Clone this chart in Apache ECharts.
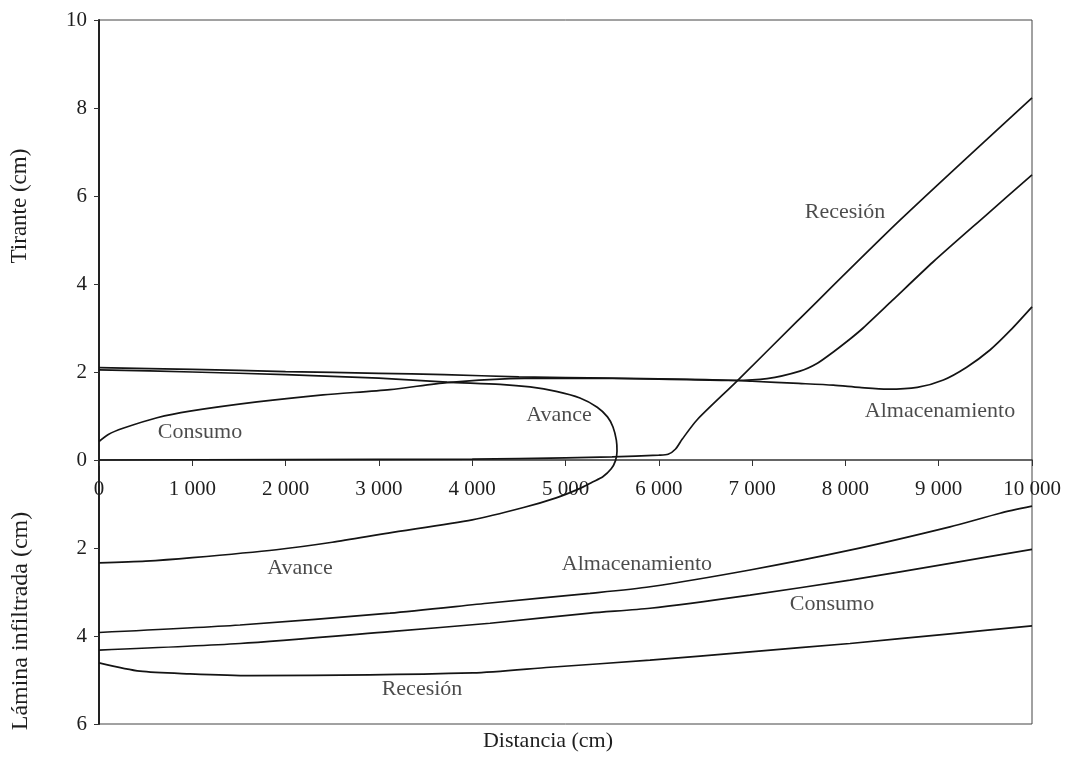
<!DOCTYPE html>
<html>
<head>
<meta charset="utf-8">
<script src="https://cdn.jsdelivr.net/npm/echarts@6/dist/echarts.min.js"></script>
<style>html,body{margin:0;padding:0;background:#fff}#c{width:1065px;height:775px}</style>
</head>
<body>
<div id="c"></div>
<script>
// ---- Data (x: distancia cm, y: tirante cm; negative = lámina infiltrada) ----
const xTicks = [0, 1000, 2000, 3000, 4000, 5000, 6000, 7000, 8000, 9000, 10000];
const yTicks = [-6, -4, -2, 0, 2, 4, 6, 8, 10];

// Upper panel (tirante)
const recesionTirante = [[0,0.0],[2000,0.01],[4000,0.02],[5000,0.05],[5500,0.07],[6000,0.11],[6100,0.13],
  [6180,0.25],[6250,0.47],[6409,0.91],[6827,1.77],[7481,3.15],[8585,5.45],[10000,8.23]];
const consumoTirante = [[0,0.42],[100,0.58],[257,0.72],[622,0.96],[975,1.11],[1693,1.32],[2401,1.48],
  [3119,1.6],[3730,1.76],[4405,1.85],[5000,1.86],[6000,1.84],[6800,1.81],[7160,1.85],[7513,2.02],
  [7700,2.2],[7867,2.45],[8050,2.75],[8190,3.0],[8500,3.62],[8939,4.5],[9500,5.55],[10000,6.48]];
const almacenamientoTirante = [[0,2.1],[1000,2.06],[2000,2.01],[3000,1.97],[3700,1.94],[4500,1.89],
  [5500,1.86],[6500,1.83],[7000,1.79],[7500,1.74],[7870,1.7],[8150,1.65],[8450,1.61],[8770,1.65],
  [9050,1.82],[9300,2.11],[9550,2.5],[9770,2.95],[10000,3.48]];
// Avance: continuous loop from the tirante panel into the lámina panel
const avanceCurve = [[0,2.05],[1000,2.0],[2000,1.94],[3000,1.86],[3730,1.77],[4300,1.72],[4620,1.66],
  [4900,1.56],[5155,1.41],[5340,1.2],[5450,0.98],[5509,0.75],[5545,0.45],[5552,0.2],[5535,-0.02],
  [5490,-0.2],[5400,-0.38],[5290,-0.5],[5150,-0.65],[4900,-0.86],[4550,-1.08],[4000,-1.36],
  [3100,-1.66],[2500,-1.87],[1900,-2.04],[1000,-2.22],[500,-2.3],[0,-2.34]];

// Lower panel (lámina infiltrada, plotted as negative)
const almacenamientoLamina = [[0,-3.92],[1511,-3.75],[3119,-3.48],[4191,-3.25],[5263,-3.03],[5906,-2.88],
  [6977,-2.5],[8049,-2.05],[9121,-1.52],[9657,-1.21],[10000,-1.05]];
const consumoLamina = [[0,-4.32],[1511,-4.17],[3119,-3.9],[4191,-3.71],[5263,-3.48],[5906,-3.37],
  [6977,-3.07],[8049,-2.73],[9121,-2.35],[10000,-2.03]];
const recesionLamina = [[0,-4.61],[440,-4.8],[975,-4.86],[1618,-4.9],[4008,-4.84],[4834,-4.71],
  [5906,-4.55],[6977,-4.36],[8049,-4.17],[9121,-3.95],[10000,-3.77]];

// Curve annotations (text, x, y in data units)
const curveLabels = [
  ['Recesión', 7996, 5.64], ['Almacenamiento', 9014, 1.11], ['Avance', 4930, 1.02], ['Consumo', 1083, 0.64],
  ['Avance', 2154, -2.45], ['Almacenamiento', 5766, -2.36], ['Consumo', 7856, -3.27], ['Recesión', 3462, -5.2]
];

const FONT = '"Liberation Serif", "DejaVu Serif", serif';
const LINE = '#141414';
const TEXT = '#1e1e1e';

function lineSeries(name, data) {
  return {
    name: name, type: 'line', data: data, smooth: 0.25, symbol: 'none',
    lineStyle: { color: LINE, width: 1.7 }, z: 3, silent: true, animation: false
  };
}

const chart = echarts.init(document.getElementById('c'), null, { renderer: 'canvas' });
chart.setOption({
  animation: false,
  backgroundColor: '#fff',
  grid: { left: 99, right: 33, top: 20, bottom: 51, show: true, borderColor: '#444', borderWidth: 1, backgroundColor: 'transparent' },
  xAxis: {
    type: 'value', min: xTicks[0], max: xTicks[xTicks.length - 1], interval: 1000,
    position: 'bottom', offset: -264,
    axisLine: { onZero: false, lineStyle: { color: '#333', width: 1.5 } },
    axisTick: { show: true, length: 6, lineStyle: { color: '#333' } },
    splitLine: { show: false },
    axisLabel: {
      margin: 19, color: TEXT, fontFamily: FONT, fontSize: 21, showMinLabel: true, showMaxLabel: true,
      formatter: v => String(v).replace(/\B(?=(\d{3})+(?!\d))/g, ' ')
    }
  },
  yAxis: {
    type: 'value', min: yTicks[0], max: yTicks[yTicks.length - 1], interval: 2,
    axisLine: { show: true, onZero: false, lineStyle: { color: '#222', width: 2 } },
    axisTick: { show: true, length: 5, lineStyle: { color: '#333' } },
    splitLine: { show: false },
    axisLabel: { margin: 12, color: TEXT, fontFamily: FONT, fontSize: 21, formatter: v => String(Math.abs(v)) }
  },
  graphic: [
    { type: 'text', x: 20, y: 206, rotation: Math.PI / 2, style: { text: 'Tirante (cm)', fill: TEXT, font: '23px ' + FONT, textAlign: 'center', textVerticalAlign: 'middle' } },
    { type: 'text', x: 21, y: 621, rotation: Math.PI / 2, style: { text: 'Lámina infiltrada (cm)', fill: TEXT, font: '24px ' + FONT, textAlign: 'center', textVerticalAlign: 'middle' } },
    { type: 'text', x: 548, y: 741, style: { text: 'Distancia (cm)', fill: TEXT, font: '22px ' + FONT, textAlign: 'center', textVerticalAlign: 'middle' } }
  ],
  series: [
    lineSeries('Recesión (tirante)', recesionTirante),
    lineSeries('Consumo (tirante)', consumoTirante),
    lineSeries('Almacenamiento (tirante)', almacenamientoTirante),
    lineSeries('Avance', avanceCurve),
    lineSeries('Almacenamiento (lámina)', almacenamientoLamina),
    lineSeries('Consumo (lámina)', consumoLamina),
    lineSeries('Recesión (lámina)', recesionLamina),
    {
      type: 'scatter', symbolSize: 0, silent: true, z: 5,
      data: curveLabels.map(d => ({ name: d[0], value: [d[1], d[2]] })),
      label: { show: true, position: 'inside', formatter: '{b}', color: TEXT, fontFamily: FONT, fontSize: 22 }
    }
  ]
});
</script>
</body>
</html>
